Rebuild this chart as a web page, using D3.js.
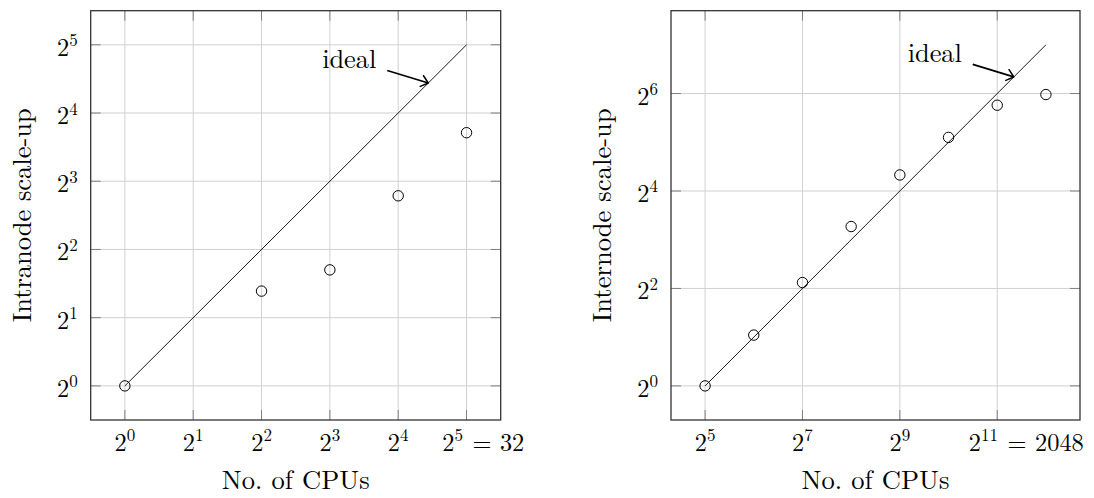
<!DOCTYPE html>
<html><head><meta charset="utf-8">
<script src="https://cdn.jsdelivr.net/npm/d3@7"></script>
</head><body style="margin:0;background:#fff">
<svg id="c" width="1094" height="498"></svg>
<script>
// ---------- Data: intranode (left panel) ----------
const intraCPUs      = [1, 4, 8, 16, 32];
const intraScaleUp   = [1, 2.62, 3.25, 6.9, 13.1];
const intraIdealCPUs = [1, 32];
const intraIdeal     = [1, 32];
const intraXTickExp  = [0, 1, 2, 3, 4, 5];
const intraXTickSuffix = ["", "", "", "", "", "32"];
const intraYTickExp  = [0, 1, 2, 3, 4, 5];

// ---------- Data: internode (right panel) ----------
const interCPUs      = [32, 64, 128, 256, 512, 1024, 2048, 4096];
const interScaleUp   = [1, 2.06, 4.35, 9.65, 20.1, 34.3, 54.2, 63.1];
const interIdealCPUs = [32, 4096];
const interIdeal     = [1, 128];
const interXTickExp  = [5, 7, 9, 11];
const interXTickSuffix = ["", "", "", "2048"];
const interYTickExp  = [0, 2, 4, 6];

const FONT = "'Latin Modern Roman', 'Liberation Serif', serif";
const svg = d3.select("#c");

function txt(sel, size) {
  return sel.append("text").style("font-family", FONT).style("font-size", size + "px").attr("fill", "#000");
}
function sup(t, s) {
  return t.append("tspan").attr("dy", -9.5).style("font-size", "17px").text(s);
}

function panel(cfg) {
  const g = svg.append("g");
  const x = d3.scaleLog().base(2).domain(cfg.xDomain).range([cfg.left, cfg.right]);
  const y = d3.scaleLog().base(2).domain(cfg.yDomain).range([cfg.bottom, cfg.top]);
  const xt = cfg.xTickExp.map(e => Math.pow(2, e));
  const yt = cfg.yTickExp.map(e => Math.pow(2, e));

  // grid
  g.selectAll(".gx").data(xt).join("line")
    .attr("x1", d => x(d)).attr("x2", d => x(d))
    .attr("y1", cfg.top).attr("y2", cfg.bottom)
    .attr("stroke", "#d0d0d0").attr("stroke-width", 1);
  g.selectAll(".gy").data(yt).join("line")
    .attr("y1", d => y(d)).attr("y2", d => y(d))
    .attr("x1", cfg.left).attr("x2", cfg.right)
    .attr("stroke", "#d0d0d0").attr("stroke-width", 1);

  // ticks (inside, all four sides)
  const tl = 10;
  const tk = g.append("g").attr("stroke", "#808080").attr("stroke-width", 1);
  xt.forEach(d => {
    tk.append("line").attr("x1", x(d)).attr("x2", x(d)).attr("y1", cfg.bottom).attr("y2", cfg.bottom - tl);
    tk.append("line").attr("x1", x(d)).attr("x2", x(d)).attr("y1", cfg.top).attr("y2", cfg.top + tl);
  });
  yt.forEach(d => {
    tk.append("line").attr("y1", y(d)).attr("y2", y(d)).attr("x1", cfg.left).attr("x2", cfg.left + tl);
    tk.append("line").attr("y1", y(d)).attr("y2", y(d)).attr("x1", cfg.right).attr("x2", cfg.right - tl);
  });

  // frame
  g.append("rect").attr("x", cfg.left).attr("y", cfg.top)
    .attr("width", cfg.right - cfg.left).attr("height", cfg.bottom - cfg.top)
    .attr("fill", "none").attr("stroke", "#333").attr("stroke-width", 1.3);

  // ideal line
  const line = d3.line().x(d => x(d[0])).y(d => y(d[1]));
  g.append("path").datum(cfg.idealX.map((v, i) => [v, cfg.idealY[i]]))
    .attr("d", line).attr("fill", "none").attr("stroke", "#000").attr("stroke-width", 0.9);

  // markers
  g.selectAll(".pt").data(cfg.px.map((v, i) => [v, cfg.py[i]])).join("circle")
    .attr("cx", d => x(d[0])).attr("cy", d => y(d[1])).attr("r", 5.2)
    .attr("fill", "none").attr("stroke", "#000").attr("stroke-width", 1);

  // x tick labels
  cfg.xTickExp.forEach((e, i) => {
    const sx = x(Math.pow(2, e));
    const t = txt(g, 24.4).attr("y", cfg.bottom + 30.7);
    if (cfg.xTickSuffix[i]) {
      t.attr("x", sx + cfg.lastLabelDx).attr("text-anchor", "start");
    } else {
      t.attr("x", sx).attr("text-anchor", "middle");
    }
    t.append("tspan").text("2");
    sup(t, String(e));
    if (cfg.xTickSuffix[i]) {
      t.append("tspan").attr("dy", 9.5).attr("dx", 9.5).text("=");
      t.append("tspan").attr("dx", 8.5).text(cfg.xTickSuffix[i]);
    }
  });

  // y tick labels
  cfg.yTickExp.forEach(e => {
    const t = txt(g, 24.4).attr("x", cfg.left - 13).attr("y", y(Math.pow(2, e)) + 11)
      .attr("text-anchor", "end");
    t.append("tspan").text("2");
    sup(t, String(e));
  });

  // axis labels
  txt(g, 26.5).attr("x", (cfg.left + cfg.right) / 2).attr("y", 489.3)
    .attr("text-anchor", "middle")
    .attr("textLength", 148).attr("lengthAdjust", "spacing")
    .text("No. of CPUs");
  txt(g, 26.5)
    .attr("transform", `translate(${cfg.yLabelX},${(cfg.top + cfg.bottom) / 2}) rotate(-90)`)
    .attr("text-anchor", "middle")
    .attr("textLength", 214).attr("lengthAdjust", "spacing")
    .text(cfg.yLabel);

  // "ideal" annotation with arrow pointing at ideal line
  const tipX = x(Math.pow(2, cfg.arrowExp));
  const tipY = y(Math.pow(2, cfg.arrowExp - cfg.idealOffsetExp));
  const sX = tipX - 41, sY = tipY - 12.5;
  g.append("line").attr("x1", sX).attr("y1", sY).attr("x2", tipX).attr("y2", tipY)
    .attr("stroke", "#000").attr("stroke-width", 1.8);
  const ang = Math.atan2(sY - tipY, sX - tipX);
  const L = 8.7, a = 40 * Math.PI / 180;
  const p1 = [tipX + L * Math.cos(ang + a), tipY + L * Math.sin(ang + a)];
  const p2 = [tipX + L * Math.cos(ang - a), tipY + L * Math.sin(ang - a)];
  g.append("path")
    .attr("d", `M${p1[0]},${p1[1]} L${tipX},${tipY} L${p2[0]},${p2[1]}`)
    .attr("fill", "none").attr("stroke", "#000").attr("stroke-width", 1.5)
    .attr("stroke-linecap", "round").attr("stroke-linejoin", "round");
  txt(g, 26.5).attr("x", sX - 11).attr("y", sY - 2.2).attr("text-anchor", "end")
    .attr("textLength", 54).attr("lengthAdjust", "spacing").text("ideal");
}

panel({
  left: 90.7, right: 500.7, top: 10.7, bottom: 420,
  xDomain: [Math.pow(2, -0.5), Math.pow(2, 5.5)],
  yDomain: [Math.pow(2, -0.5), Math.pow(2, 5.5)],
  xTickExp: intraXTickExp, xTickSuffix: intraXTickSuffix, yTickExp: intraYTickExp,
  px: intraCPUs, py: intraScaleUp, idealX: intraIdealCPUs, idealY: intraIdeal,
  yLabel: "Intranode scale-up", yLabelX: 30.5, lastLabelDx: -24.3,
  arrowExp: 4.44, idealOffsetExp: 0
});
panel({
  left: 671, right: 1080, top: 10.7, bottom: 420,
  xDomain: [Math.pow(2, 4.3), Math.pow(2, 12.7)],
  yDomain: [Math.pow(2, -0.7), Math.pow(2, 7.7)],
  xTickExp: interXTickExp, xTickSuffix: interXTickSuffix, yTickExp: interYTickExp,
  px: interCPUs, py: interScaleUp, idealX: interIdealCPUs, idealY: interIdeal,
  yLabel: "Internode scale-up", yLabelX: 610.5, lastLabelDx: -28.4,
  arrowExp: 11.34, idealOffsetExp: 5
});
</script>
</body></html>
